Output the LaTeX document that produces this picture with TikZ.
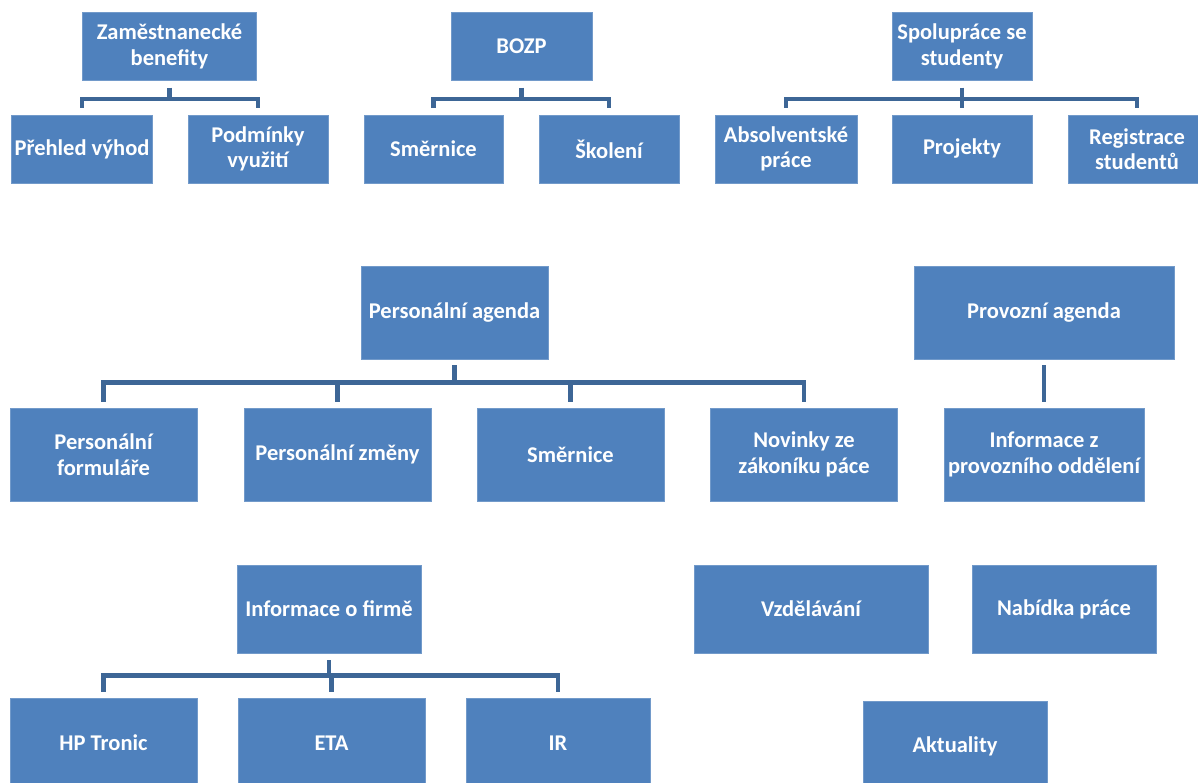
\documentclass[tikz,border=0pt]{standalone}
\usepackage{fontspec}
\setmainfont{Carlito}
\usetikzlibrary{positioning}
\definecolor{boxblue}{HTML}{4F81BD}
\definecolor{linkblue}{HTML}{3D6696}

\begin{document}
\begin{tikzpicture}[
  x=1pt,y=-1pt,
  box/.style={fill=boxblue,draw=boxblue!80!white,line width=0.6pt,text=white,inner sep=0pt,align=center,
    font=\fontsize{22.5}{25.5}\selectfont\bfseries},
  top/.style={box,minimum height=68pt},
  mid/.style={box,minimum width=187pt,minimum height=93pt},
  low/.style={box,minimum width=187pt,minimum height=89pt},
  link/.style={draw=linkblue,line width=4.5pt,line join=miter}
]
\useasboundingbox (0,0) rectangle (1198,783);

% upper row
\node[top,minimum width=174pt] (zb) at (169.5,46.5) {Zaměstnanecké\\benefity};
\node[top,minimum width=141pt] (pv) at (82,149) {Přehled výhod};
\node[top,minimum width=140pt] (pod) at (258,149) {Podmínky\\využití};

\node[top,minimum width=141pt] (bozp) at (521.5,46.5) {BOZP};
\node[top,minimum width=139pt] (smb) at (433.5,149) {Směrnice};
\node[top,minimum width=140pt] (sko) at (609,149) {Školení};

\node[top,minimum width=140pt] (sps) at (962,46.5) {Spolupráce se\\studenty};
\node[top,minimum width=142pt] (abs) at (786,149) {Absolventské\\práce};
\node[top,minimum width=140pt] (proj) at (962,149) {Projekty};
\node[top,minimum width=138pt] (reg) at (1137,149) {Registrace\\studentů};

% middle row
\node[mid] (pa) at (454.5,312.5) {Personální agenda};
\node[mid] (pf) at (103.5,454.5) {Personální\\formuláře};
\node[mid] (pz) at (337.5,454.5) {Personální změny};
\node[mid] (smp) at (570.5,454.5) {Směrnice};
\node[mid] (nov) at (804,454.5) {Novinky ze\\zákoníku páce};

\node[mid,minimum width=260pt] (pra) at (1044,312.5) {Provozní agenda};
\node[mid,minimum width=200pt] (inf) at (1044,454.5) {Informace z\\provozního oddělení};

% lower row
\node[low,minimum width=184pt,minimum height=88pt] (iof) at (329,609) {Informace o firmě};
\node[low,minimum width=234pt,minimum height=88pt] (vzd) at (811,609) {Vzdělávání};
\node[low,minimum width=184pt,minimum height=88pt] (nab) at (1064,609) {Nabídka práce};
\node[low] (hp) at (103.5,743) {HP Tronic};
\node[low] (eta) at (331.5,743) {ETA};
\node[low,minimum width=184pt] (ir) at (558,743) {IR};
\node[low,minimum width=184pt] (akt) at (955,746) {Aktuality};

% connectors
\foreach \c in {pv,pod}
  \draw[link] ([yshift=-7pt]zb.south) -- ++(0,11) -| ([yshift=7pt]\c.north);
\foreach \c in {smb,sko}
  \draw[link] ([yshift=-7pt]bozp.south) -- ++(0,11) -| ([yshift=7pt]\c.north);
\foreach \c in {abs,proj,reg}
  \draw[link] ([yshift=-7pt]sps.south) -- ++(0,11) -| ([yshift=7pt]\c.north);
\foreach \c in {pf,pz,smp,nov}
  \draw[link] ([yshift=-6pt]pa.south) -- ++(0,17) -| ([yshift=6pt]\c.north);
\draw[link] ([yshift=-6pt]pra.south) -- ([yshift=6pt]inf.north);
\foreach \c in {hp,eta,ir}
  \draw[link] ([yshift=-7pt]iof.south) -- ++(0,15) -| ([yshift=6pt]\c.north);
\end{tikzpicture}
\end{document}
